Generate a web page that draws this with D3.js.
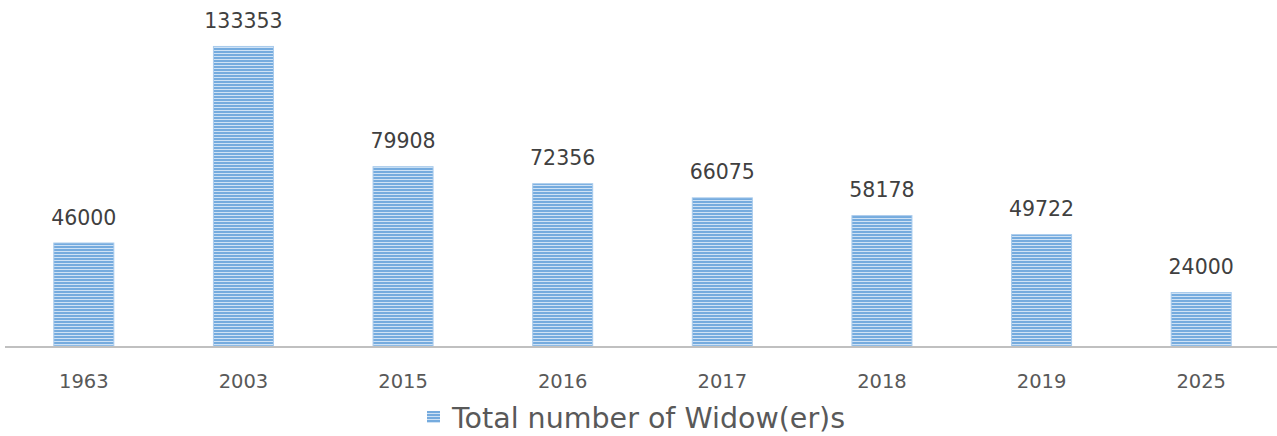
<!DOCTYPE html>
<meta charset="utf-8">
<title>Total number of Widow(er)s</title>
<style>
    body { margin: 0; background: #fff; }
    text { font-family: "DejaVu Sans", sans-serif; }
    .value { fill: #404040; font-size: 20.5px; }
    .tick-label { fill: #595959; font-size: 19.5px; }
    .legend-label { fill: #595959; font-size: 28.5px; }
</style>

<svg width="1277" height="436"></svg>

<script src="https://cdn.jsdelivr.net/npm/d3@7"></script>
<script>

    var years = ["1963", "2003", "2015", "2016", "2017", "2018", "2019", "2025"];
    var widowers = [46000, 133353, 79908, 72356, 66075, 58178, 49722, 24000];
    var seriesName = "Total number of Widow(er)s";

    var svg = d3.select("svg"),
        width = +svg.attr("width"),
        height = +svg.attr("height");

    var baseline = 346;

    var x = d3.scaleBand()
        .domain(years)
        .range([4, 1281])
        .paddingInner(0.624)
        .paddingOuter(0.312);

    var y = d3.scaleLinear()
        .domain([0, 140000])
        .range([baseline, 31]);

    // striped fill like the Excel pattern
    var defs = svg.append("defs");
    var pattern = defs.append("pattern")
        .attr("id", "stripes")
        .attr("patternUnits", "userSpaceOnUse")
        .attr("width", 6)
        .attr("height", 3);
    pattern.append("rect")
        .attr("width", 6)
        .attr("height", 3)
        .attr("fill", "#75abde");
    pattern.append("rect")
        .attr("y", 2)
        .attr("width", 6)
        .attr("height", 1)
        .attr("fill", "#cfe2f5");

    var data = years.map(function (d, i) { return { year: d, value: widowers[i] }; });

    svg.append("g")
        .selectAll("rect")
        .data(data)
        .enter().append("rect")
        .attr("x", function (d) { return x(d.year); })
        .attr("y", function (d) { return y(d.value) + 0.5; })
        .attr("width", x.bandwidth())
        .attr("height", function (d) { return baseline - y(d.value) - 0.5; })
        .attr("fill", "url(#stripes)")
        .attr("stroke", "#a9cbec")
        .attr("stroke-width", 1);

    svg.append("g")
        .selectAll("text")
        .data(data)
        .enter().append("text")
        .attr("class", "value")
        .attr("x", function (d) { return x(d.year) + x.bandwidth() / 2; })
        .attr("y", function (d) { return y(d.value) - 18; })
        .attr("text-anchor", "middle")
        .text(function (d) { return d.value; });

    // category axis
    var xAxis = svg.append("g")
        .attr("transform", "translate(0," + baseline + ")")
        .call(d3.axisBottom(x).tickSize(0).tickPadding(28));
    xAxis.select(".domain").remove();
    xAxis.selectAll("text")
        .attr("class", "tick-label")
        .attr("font-size", null)
        .attr("font-family", null);

    svg.append("line")
        .attr("x1", 5)
        .attr("x2", width)
        .attr("y1", baseline + 1)
        .attr("y2", baseline + 1)
        .attr("stroke", "#c0c0c0")
        .attr("stroke-width", 2);

    // legend
    var legend = svg.append("g")
        .attr("transform", "translate(427,411)");
    legend.append("rect")
        .attr("width", 13)
        .attr("height", 12)
        .attr("fill", "url(#stripes)");
    legend.append("text")
        .attr("class", "legend-label")
        .attr("x", 25)
        .attr("y", 17)
        .text(seriesName);

</script>
